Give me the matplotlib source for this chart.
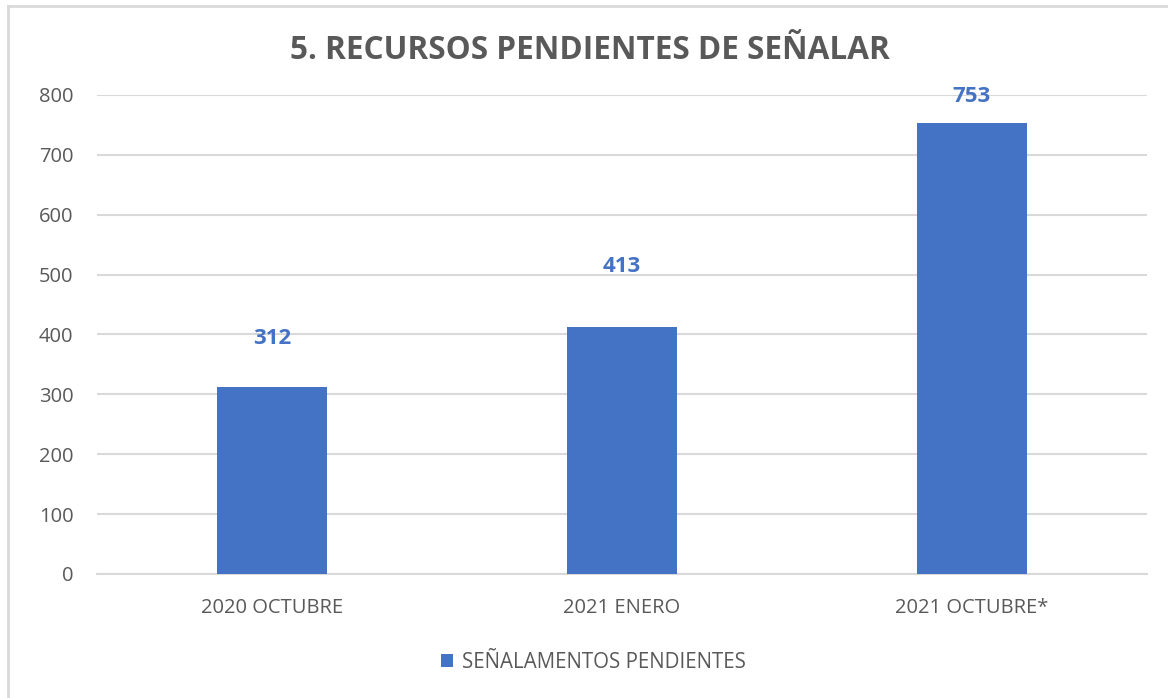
import matplotlib
matplotlib.use("Agg")
import matplotlib.pyplot as plt
from matplotlib.lines import Line2D

plt.rcParams["font.family"] = ["Open Sans", "DejaVu Sans"]

categorias = ["2020 OCTUBRE", "2021 ENERO", "2021 OCTUBRE*"]
pendientes = [312, 413, 753]
serie = "SEÑALAMENTOS PENDIENTES"
titulo = "5. RECURSOS PENDIENTES DE SEÑALAR"

azul = "#4472C4"
gris = "#595959"
# desplazamiento de cada etiqueta sobre su barra (puntos)
desplaz = [35, 43, 19]

fig = plt.figure(figsize=(11.68, 6.98), dpi=100)
ax = fig.add_axes([0.083, 0.1777, 0.899, 0.6863])

x = range(len(categorias))
barras = ax.bar(x, pendientes, width=0.314, color=azul, label=serie, zorder=3)

for xi, v, d in zip(x, pendientes, desplaz):
    ax.annotate(str(v), (xi, v), xytext=(0, d), textcoords="offset points",
                ha="center", va="center", fontsize=16, fontweight="bold",
                color=azul)

ax.set_xlim(-0.5, 2.5)
ax.set_ylim(0, 800)
ax.set_yticks(range(0, 801, 100))
ax.set_xticks(list(x))
ax.set_xticklabels(categorias)
ax.grid(axis="y", color="#D9D9D9", linewidth=1.5, zorder=0)
ax.tick_params(axis="both", length=0, labelsize=14.5, labelcolor=gris)
ax.tick_params(axis="x", pad=17)
ax.tick_params(axis="y", pad=17)
for s in ["top", "right", "left"]:
    ax.spines[s].set_visible(False)
ax.spines["bottom"].set_color("#D9D9D9")
ax.spines["bottom"].set_linewidth(1.5)

fig.text(0.505, 0.927, titulo, ha="center", va="center", fontsize=22.7,
         fontweight="bold", color=gris)

leg = fig.legend(loc="center", bbox_to_anchor=(0.508, 0.051), frameon=False,
                 fontsize=14.8, handlelength=0.6, handleheight=0.6,
                 handletextpad=0.4)
for t in leg.get_texts():
    t.set_color(gris)

# marco del grafico
fig.add_artist(Line2D([8 / 1168, 8 / 1168], [0, 1 - 6 / 698], color="#D9D9D9",
                      linewidth=2, transform=fig.transFigure))
fig.add_artist(Line2D([8 / 1168, 1], [1 - 6 / 698, 1 - 6 / 698], color="#D9D9D9",
                      linewidth=2, transform=fig.transFigure))

fig.savefig("out.png", dpi=100)
